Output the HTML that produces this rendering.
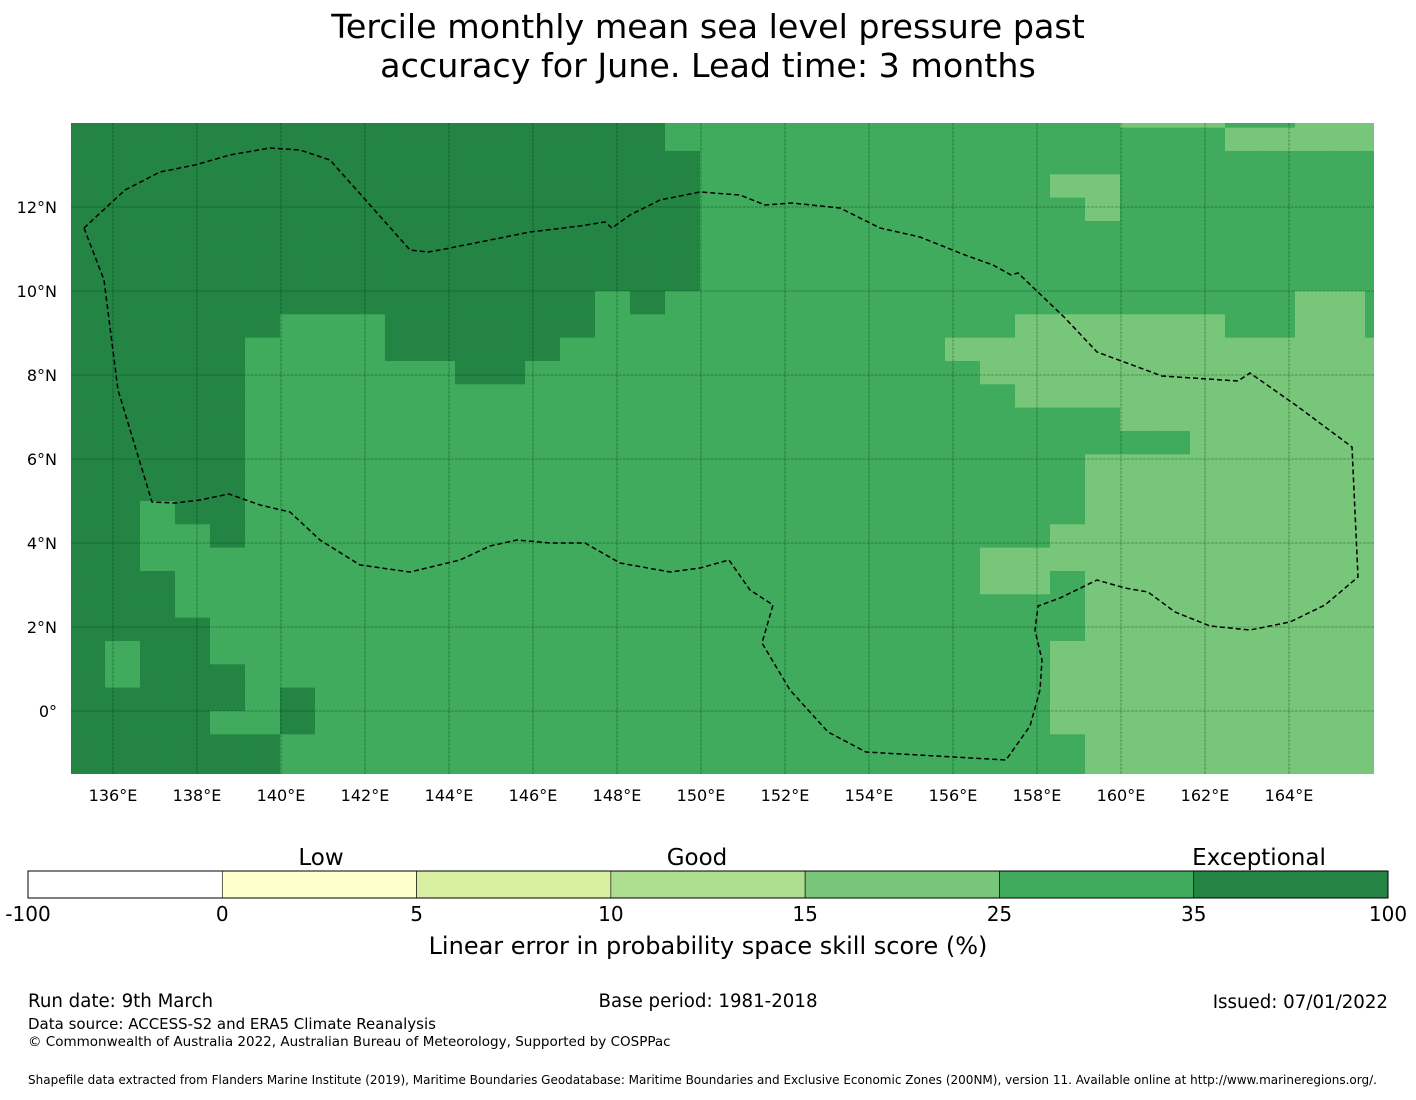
<!DOCTYPE html>
<html><head><meta charset="utf-8"><style>
body{margin:0;background:#fff;width:1416px;height:1095px;overflow:hidden;font-family:"Liberation Sans","DejaVu Sans",sans-serif}
svg text{font-family:"DejaVu Sans","Liberation Sans",sans-serif}
</style></head><body>
<svg id="chart" width="1416" height="1095" viewBox="0 0 1416 1095" xmlns="http://www.w3.org/2000/svg">
<text x="708" y="38" font-size="33.3" text-anchor="middle">Tercile monthly mean sea level pressure past</text>
<text x="708" y="77" font-size="33.3" text-anchor="middle">accuracy for June. Lead time: 3 months</text>
<defs><clipPath id="mapclip"><rect x="71" y="123" width="1303" height="651"/></clipPath></defs>
<g id="cells" clip-path="url(#mapclip)"></g>
<g id="grid" clip-path="url(#mapclip)"></g>
<path id="eez" fill="none" stroke="#000" stroke-width="1.5" stroke-dasharray="5,3" clip-path="url(#mapclip)"/>
<g id="ticks"></g>
<g id="cbar"></g>
<text x="321" y="865" font-size="23" text-anchor="middle">Low</text>
<text x="697" y="865" font-size="23" text-anchor="middle">Good</text>
<text x="1259" y="865" font-size="23" text-anchor="middle">Exceptional</text>
<text x="708" y="954" font-size="24" text-anchor="middle">Linear error in probability space skill score (%)</text>
<text x="28" y="1007" font-size="18.2">Run date: 9th March</text>
<text x="708" y="1007" font-size="18.2" text-anchor="middle">Base period: 1981-2018</text>
<text x="1388" y="1008" font-size="18.2" text-anchor="end">Issued: 07/01/2022</text>
<text x="28" y="1029" font-size="15">Data source: ACCESS-S2 and ERA5 Climate Reanalysis</text>
<text x="28" y="1046" font-size="13.5">© Commonwealth of Australia 2022, Australian Bureau of Meteorology, Supported by COSPPac</text>
<text x="28" y="1084" font-size="12">Shapefile data extracted from Flanders Marine Institute (2019), Maritime Boundaries Geodatabase: Maritime Boundaries and Exclusive Economic Zones (200NM), version 11. Available online at http://www.marineregions.org/.</text>
</svg>
<script>
// skill categories per grid cell: D = 35-100, M = 25-35, L = 15-25
const gridRows = [
"DDDDDDDDDDDDDDDDDMMMMMMMMMMMMMLLLMMLLL",
"DDDDDDDDDDDDDDDDDMMMMMMMMMMMMMMMMLLLLL",
"DDDDDDDDDDDDDDDDDDMMMMMMMMMMMMMMMMMMMM",
"DDDDDDDDDDDDDDDDDDMMMMMMMMMMLLMMMMMMMM",
"DDDDDDDDDDDDDDDDDDMMMMMMMMMMMLMMMMMMMM",
"DDDDDDDDDDDDDDDDDDMMMMMMMMMMMMMMMMMMMM",
"DDDDDDDDDDDDDDDDDDMMMMMMMMMMMMMMMMMMMM",
"DDDDDDDDDDDDDDDDDDMMMMMMMMMMMMMMMMMMMM",
"DDDDDDDDDDDDDDDMDMMMMMMMMMMMMMMMMMMLLM",
"DDDDDDMMMDDDDDDMMMMMMMMMMMMLLLLLLMMLLM",
"DDDDDMMMMDDDDDMMMMMMMMMMMLLLLLLLLLLLLL",
"DDDDDMMMMMMDDMMMMMMMMMMMMMLLLLLLLLLLLL",
"DDDDDMMMMMMMMMMMMMMMMMMMMMMLLLLLLLLLLL",
"DDDDDMMMMMMMMMMMMMMMMMMMMMMMMMLLLLLLLL",
"DDDDDMMMMMMMMMMMMMMMMMMMMMMMMMMMLLLLLL",
"DDDDDMMMMMMMMMMMMMMMMMMMMMMMMLLLLLLLLL",
"DDDDDMMMMMMMMMMMMMMMMMMMMMMMMLLLLLLLLL",
"DDMDDMMMMMMMMMMMMMMMMMMMMMMMMLLLLLLLLL",
"DDMMDMMMMMMMMMMMMMMMMMMMMMMMLLLLLLLLLL",
"DDMMMMMMMMMMMMMMMMMMMMMMMMLLLLLLLLLLLL",
"DDDMMMMMMMMMMMMMMMMMMMMMMMLLMLLLLLLLLL",
"DDDMMMMMMMMMMMMMMMMMMMMMMMMMMLLLLLLLLL",
"DDDDMMMMMMMMMMMMMMMMMMMMMMMMMLLLLLLLLL",
"DMDDMMMMMMMMMMMMMMMMMMMMMMMMLLLLLLLLLL",
"DMDDDMMMMMMMMMMMMMMMMMMMMMMMLLLLLLLLLL",
"DDDDDMDMMMMMMMMMMMMMMMMMMMMMLLLLLLLLLL",
"DDDDMMDMMMMMMMMMMMMMMMMMMMMMLLLLLLLLLL",
"DDDDDDMMMMMMMMMMMMMMMMMMMMMMMLLLLLLLLL",
"DDDDDDMMMMMMMMMMMMMMMMMMMMMMMLLLLLLLLL"];
const categoryCodes = ["L","M","D"];
const categoryValues = [20, 30, 50];
const binEdges = [-100, 0, 5, 10, 15, 25, 35, 100];
const binColors = ["#ffffff","#ffffcc","#d9f0a3","#addd8e","#78c679","#41ab5d","#238443"];
const lonTicks = [136,138,140,142,144,146,148,150,152,154,156,158,160,162,164];
const latTicks = [0,2,4,6,8,10,12];
const cellLon = 5/6, cellLat = 5/9, lonStart = 134.976, latStart = 14.445;

const NS="http://www.w3.org/2000/svg";
const xOf = lon => 71 + (lon-135)*42;
const yOf = lat => 711 - lat*42;
function colorOf(v){for(let i=0;i<binEdges.length-1;i++){if(v>=binEdges[i]&&v<binEdges[i+1])return binColors[i];}return binColors[binColors.length-1];}
function mk(tag,attrs,parent){const e=document.createElementNS(NS,tag);for(const k in attrs)e.setAttribute(k,attrs[k]);parent.appendChild(e);return e;}

const cells=document.getElementById('cells');
gridRows.forEach((row,r)=>{
  [...row].forEach((ch,c)=>{
    const v=categoryValues[categoryCodes.indexOf(ch)];
    const x0=xOf(lonStart+c*cellLon), x1=xOf(lonStart+(c+1)*cellLon);
    const y0=yOf(latStart-r*cellLat), y1=yOf(latStart-(r+1)*cellLat);
    const el=mk('rect',{x:x0,y:y0,width:x1-x0+0.6,height:y1-y0+0.6,fill:colorOf(v)},cells);
    
    
  });
});
const grid=document.getElementById('grid'), ticks=document.getElementById('ticks');
lonTicks.forEach(l=>{
  const x=xOf(l);
  const ln=mk('line',{x1:x,x2:x,y1:123,y2:774,stroke:'rgba(0,40,10,0.45)','stroke-width':0.8,'stroke-dasharray':'3,1'},grid);
  
  
  const t=mk('text',{x:x,y:801,'font-size':16,'text-anchor':'middle'},ticks);
  t.textContent=l+'°E';
  
  
});
latTicks.forEach(l=>{
  const y=yOf(l);
  const ln=mk('line',{x1:71,x2:1374,y1:y,y2:y,stroke:'rgba(0,40,10,0.45)','stroke-width':0.8,'stroke-dasharray':'3,1'},grid);
  
  
  const t=mk('text',{x:57,y:y+6,'font-size':16,'text-anchor':'end'},ticks);
  t.textContent=l===0?'0°':l+'°N';
  
  
});
const eezPts=[[84,228],[104,280],[118,390],[152,502],[175,503],[200,500],[229,494],[260,505],[290,512],[320,540],[360,565],[410,572],[460,560],[490,546],[517,540],[550,543],[585,543],[620,563],[670,572],[700,568],[729,560],[750,590],[773,605],[762,643],[790,690],[828,732],[866,752],[1006,760],[1030,726],[1040,690],[1042,660],[1035,630],[1038,606],[1060,598],[1097,580],[1125,588],[1148,592],[1175,612],[1210,626],[1250,630],[1290,622],[1325,605],[1358,577],[1352,447],[1297,406],[1250,373],[1238,381],[1162,376],[1097,352],[1065,318],[1040,294],[1018,273],[1011,275],[993,265],[965,255],[920,237],[880,228],[840,208],[792,203],[765,205],[740,195],[700,192],[660,200],[630,215],[612,228],[605,222],[580,226],[530,232],[440,250],[428,252],[410,250],[330,160],[300,150],[270,148],[230,155],[195,165],[160,172],[125,190],[84,228]];
document.getElementById('eez').setAttribute('d','M'+eezPts.map(p=>p.join(',')).join(' L'));

const cbar=document.getElementById('cbar');
const segW=1360/binColors.length;
binColors.forEach((col,i)=>{
  const r=mk('rect',{x:28+i*segW,y:871,width:segW,height:27,fill:col,stroke:'#000','stroke-width':0.6},cbar);
  
  
});
binEdges.forEach((e,i)=>{
  const t=mk('text',{x:28+i*segW,y:921,'font-size':20,'text-anchor':'middle'},cbar);
  t.textContent=e;
  
  
});
mk('rect',{x:28,y:871,width:1360,height:27,fill:'none',stroke:'#000','stroke-width':1},cbar);
</script>
</body></html>
